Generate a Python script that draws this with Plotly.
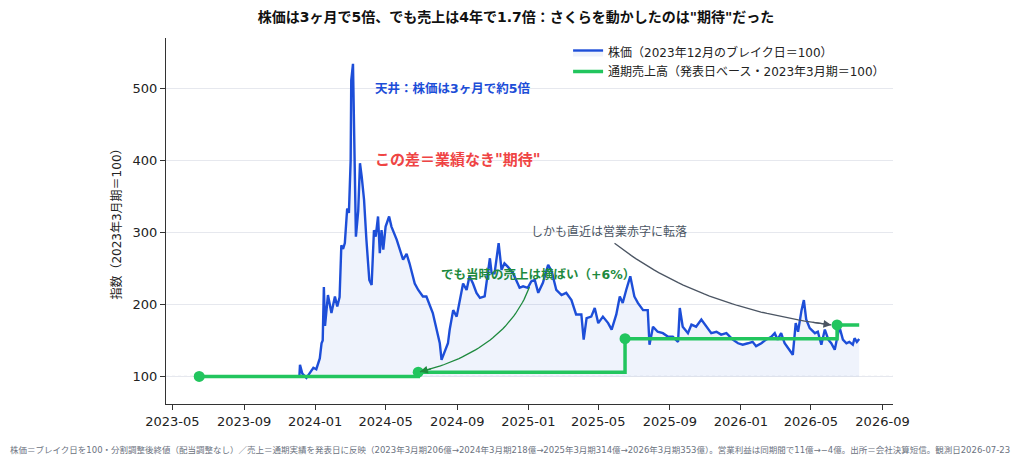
import pandas as pd
import plotly.graph_objects as go

# --- data ---
price_dates = [
    "2023-12-05", "2023-12-06", "2023-12-10", "2023-12-17", "2023-12-23", "2023-12-29",
    "2024-01-03", "2024-01-09", "2024-01-12", "2024-01-14", "2024-01-16", "2024-01-18", "2024-01-23", "2024-01-29",
    "2024-02-04", "2024-02-08", "2024-02-12", "2024-02-15", "2024-02-18", "2024-02-21", "2024-02-25", "2024-02-28",
    "2024-03-02", "2024-03-03", "2024-03-06", "2024-03-09", "2024-03-11", "2024-03-15", "2024-03-18", "2024-03-21", "2024-03-25", "2024-03-29",
    "2024-04-03", "2024-04-07", "2024-04-11", "2024-04-14", "2024-04-18", "2024-04-21", "2024-04-24", "2024-04-27",
    "2024-05-01", "2024-05-07", "2024-05-11", "2024-05-20", "2024-05-25", "2024-05-31",
    "2024-06-06", "2024-06-11", "2024-06-20", "2024-06-26",
    "2024-07-04", "2024-07-10", "2024-07-21", "2024-07-27",
    "2024-08-02", "2024-08-05", "2024-08-11", "2024-08-16", "2024-08-19", "2024-08-25", "2024-08-31",
    "2024-09-05", "2024-09-11", "2024-09-17", "2024-09-22", "2024-09-28",
    "2024-10-04", "2024-10-10", "2024-10-18", "2024-10-27", "2024-10-30",
    "2024-11-04", "2024-11-11", "2024-11-16", "2024-11-21", "2024-11-27",
    "2024-12-06", "2024-12-17", "2024-12-23", "2024-12-31",
    "2025-01-06", "2025-01-12", "2025-01-18", "2025-01-26",
    "2025-02-04", "2025-02-10", "2025-02-18", "2025-02-27",
    "2025-03-07", "2025-03-16", "2025-03-24",
    "2025-04-02", "2025-04-06", "2025-04-11", "2025-04-19", "2025-04-25",
    "2025-05-01", "2025-05-09", "2025-05-18", "2025-05-24",
    "2025-06-01", "2025-06-07", "2025-06-12", "2025-06-18", "2025-06-25",
    "2025-07-02", "2025-07-08", "2025-07-17", "2025-07-25", "2025-07-28",
    "2025-08-03", "2025-08-11", "2025-08-20", "2025-08-29",
    "2025-09-06", "2025-09-15", "2025-09-18", "2025-09-23",
    "2025-10-02", "2025-10-08", "2025-10-16", "2025-10-25",
    "2025-11-03", "2025-11-11", "2025-11-20", "2025-11-28",
    "2025-12-07", "2025-12-18", "2025-12-27",
    "2026-01-04", "2026-01-13", "2026-01-21", "2026-01-27",
    "2026-02-05", "2026-02-13", "2026-02-22", "2026-02-28",
    "2026-03-05", "2026-03-11", "2026-03-17", "2026-03-25", "2026-03-31",
    "2026-04-05", "2026-04-09", "2026-04-15", "2026-04-19", "2026-04-23", "2026-04-29",
    "2026-05-08", "2026-05-13", "2026-05-19", "2026-05-25", "2026-05-31",
    "2026-06-05", "2026-06-11", "2026-06-16", "2026-06-19", "2026-06-25",
    "2026-07-01", "2026-07-06", "2026-07-12", "2026-07-15", "2026-07-19", "2026-07-23",
]
price_index = [
    100, 116, 104, 98, 105, 112,
    110, 125, 146, 150, 224, 170, 213, 188,
    211, 197, 210, 282, 277, 285, 333, 327,
    400, 511, 534, 380, 294, 330, 396, 377, 345, 290,
    234, 227, 303, 294, 322, 271, 303, 276,
    308, 322, 308, 290, 276, 262,
    270, 257, 229, 220,
    211, 211, 188, 169,
    146, 123, 137, 146, 165, 192, 183,
    202, 229, 220, 239, 229,
    216, 209, 211, 264, 243,
    243, 285, 248, 257, 252,
    243, 223, 225, 223,
    232, 234, 216, 230,
    255, 246, 220, 213,
    216, 206, 186,
    186, 151, 181, 183, 195,
    174, 183, 174, 165,
    186, 211, 202, 220, 239,
    211, 202, 192, 192, 144,
    169, 162, 160, 155,
    155, 148, 195, 169,
    160, 172, 169, 179,
    169, 160, 162, 158,
    160, 151, 146,
    144, 146, 148, 142,
    146, 151, 155, 160,
    151, 160, 146, 137, 130,
    174, 162, 192, 206, 179, 167,
    160, 162, 144, 165, 151,
    146, 137, 160, 169, 151,
    146, 148, 144, 153, 148, 152,
]
assert len(price_dates) == len(price_index)

# annual sales (億円) by fiscal year, applied on the announcement date
sales_dates = ["2023-06-16", "2024-06-26", "2025-06-16", "2026-06-15"]
sales_oku = [206, 218, 314, 353]
obs_date = "2026-07-23"

sales_index = [round(v / sales_oku[0] * 100, 1) for v in sales_oku]

BLUE = "#1d4ed8"
GREEN = "#22c55e"
FONT = "DejaVu Sans, Noto Sans CJK JP, sans-serif"


def bezier(p0, c, p2, n=40):
    """quadratic curve between two (date, value) points, returned as dates/values"""
    t0, tc, t2 = (pd.Timestamp(p[0]).value for p in (p0, c, p2))
    xs, ys = [], []
    for i in range(n + 1):
        t = i / n
        a, b, d = (1 - t) ** 2, 2 * (1 - t) * t, t ** 2
        xs.append(pd.Timestamp(int(a * t0 + b * tc + d * t2)))
        ys.append(a * p0[1] + b * c[1] + d * p2[1])
    return xs, ys


fig = go.Figure()

# baseline for the shaded area under the price
fig.add_trace(go.Scatter(
    x=price_dates, y=[100] * len(price_dates),
    mode="lines", line=dict(width=0), hoverinfo="skip", showlegend=False
))
fig.add_trace(go.Scatter(
    x=price_dates, y=price_index,
    mode="lines", line=dict(color=BLUE, width=2.4),
    fill="tonexty", fillcolor="rgba(29,78,216,0.07)",
    name="株価（2023年12月のブレイク日＝100）"
))
fig.add_trace(go.Scatter(
    x=sales_dates + [obs_date], y=sales_index + [sales_index[-1]],
    mode="lines", line=dict(color=GREEN, width=3.5, shape="hv"),
    name="通期売上高（発表日ベース・2023年3月期＝100）"
))
fig.add_trace(go.Scatter(
    x=sales_dates, y=sales_index,
    mode="markers", marker=dict(color=GREEN, size=11),
    showlegend=False, hoverinfo="skip"
))

# curved pointers
arrows = [
    (("2025-01-03", 224), ("2024-11-23", 136), ("2024-06-29", sales_index[1] + 0.5), "#1e8a3e"),
    (("2025-05-29", 285), ("2025-10-16", 195), ("2026-06-05", sales_index[3]), "#4b5563"),
]
for p0, c, p2, col in arrows:
    xs, ys = bezier(p0, c, p2)
    fig.add_trace(go.Scatter(
        x=xs, y=ys, mode="lines", line=dict(color=col, width=1.3),
        hoverinfo="skip", showlegend=False
    ))
    fig.add_annotation(
        x=xs[-1], y=ys[-1], ax=xs[-4], ay=ys[-4], axref="x", ayref="y",
        xref="x", yref="y", text="", showarrow=True,
        arrowhead=2, arrowsize=1.2, arrowwidth=1.3, arrowcolor=col
    )

fig.add_annotation(x="2024-04-09", y=500, text="<b>天井：株価は3ヶ月で約5倍</b>",
                   showarrow=False, xanchor="left", font=dict(size=12.5, color=BLUE))
fig.add_annotation(x="2024-04-10", y=400, text="<b>この差＝業績なき\"期待\"</b>",
                   showarrow=False, xanchor="left", font=dict(size=15, color="#ef4444"))
fig.add_annotation(x="2024-08-01", y=241, text="<b>でも当時の売上は横ばい（+6%）</b>",
                   showarrow=False, xanchor="left", font=dict(size=12.5, color="#1e8a3e"))
fig.add_annotation(x="2025-01-02", y=301, text="しかも直近は営業赤字に転落",
                   showarrow=False, xanchor="left", font=dict(size=12, color="#4b5563"))

fig.add_annotation(
    x=-0.2173, y=-0.126, xref="paper", yref="paper", xanchor="left", yanchor="middle",
    showarrow=False, font=dict(size=8.5, color="#6b7280"),
    text="株価＝ブレイク日を100・分割調整後終値（配当調整なし）／売上＝通期実績を発表日に反映"
         "（2023年3月期206億→2024年3月期218億→2025年3月期314億→2026年3月期353億）。"
         "営業利益は同期間で11億→−4億。出所＝会社決算短信。観測日2026-07-23"
)

fig.add_shape(type="line", xref="paper", x0=0, x1=1, yref="y", y0=100, y1=100,
              line=dict(color="#a5acc0", width=1, dash="dot"), layer="below")

fig.update_layout(
    width=1016, height=458,
    paper_bgcolor="white", plot_bgcolor="white",
    font=dict(family=FONT, size=13, color="#222"),
    title=dict(text="<b>株価は3ヶ月で5倍、でも売上は4年で1.7倍：さくらを動かしたのは\"期待\"だった</b>",
               x=0.5, xanchor="center", y=0.980, yanchor="middle", yref="container",
               font=dict(size=14, color="#111")),
    margin=dict(l=158, r=131, t=30, b=62),
    legend=dict(x=0.996, y=1.0, xanchor="right", yanchor="top", traceorder="normal",
                bgcolor="rgba(255,255,255,0)", font=dict(size=12), tracegroupgap=0),
    showlegend=True,
)
fig.update_xaxes(
    range=["2023-04-20", "2026-09-19"], type="date",
    tick0="2023-05-01", dtick="M4", tickformat="%Y-%m",
    showgrid=False, showline=True, linecolor="#333", linewidth=1.2,
    ticks="outside", ticklen=5, tickcolor="#333", zeroline=False,
)
fig.update_yaxes(
    range=[61.7, 569.8], tickvals=[100, 200, 300, 400, 500],
    showgrid=True, gridcolor="#e6e8ee", gridwidth=1,
    showline=True, linecolor="#333", linewidth=1.2,
    ticks="outside", ticklen=5, tickcolor="#333", zeroline=False,
    title=dict(text="指数（2023年3月期＝100）", standoff=8, font=dict(size=12)),
)

fig.write_html("out.html")
